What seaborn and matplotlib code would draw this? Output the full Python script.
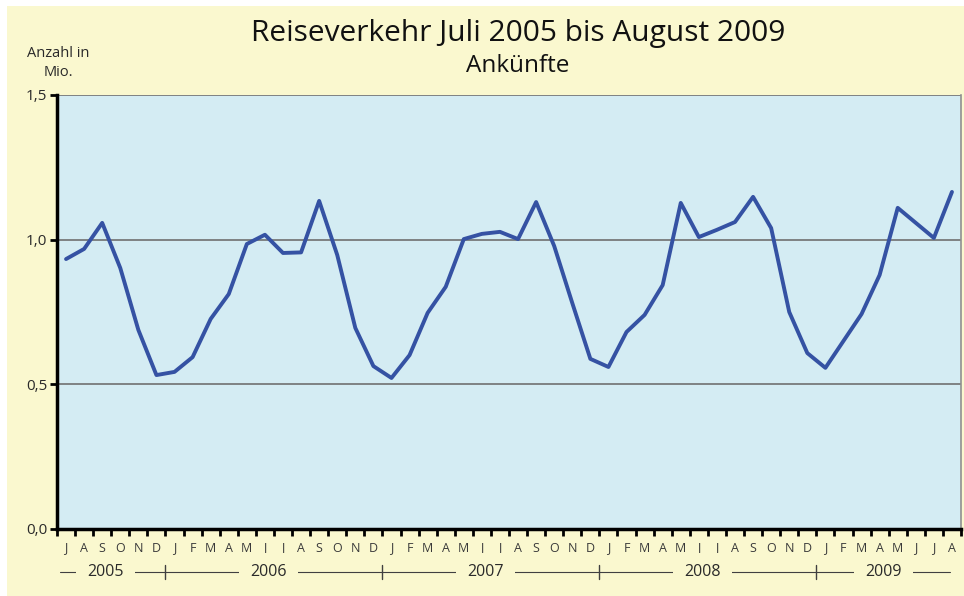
import matplotlib
matplotlib.use("Agg")
import matplotlib.pyplot as plt
import matplotlib.patches as mpatches
import seaborn as sns
import numpy as np
import pandas as pd

# Monthly arrivals (millions), July 2005 .. August 2009
months = list("JASOND") + list("JFMAMJJASOND") * 3 + list("JFMAMJJA")
years = ["2005", "2006", "2007", "2008", "2009"]
year_months = [6, 12, 12, 12, 8]
arrivals = [
    0.933, 0.968, 1.058, 0.902, 0.688, 0.532,
    0.543, 0.594, 0.726, 0.812, 0.985, 1.017, 0.954, 0.956, 1.134, 0.947, 0.695, 0.563,
    0.522, 0.601, 0.747, 0.837, 1.002, 1.020, 1.027, 1.002, 1.130, 0.978, 0.781, 0.588,
    0.560, 0.681, 0.740, 0.843, 1.127, 1.009, 1.034, 1.061, 1.148, 1.040, 0.750, 0.608,
    0.557, 0.650, 0.743, 0.878, 1.110, 1.058, 1.006, 1.165,
]

df = pd.DataFrame({"idx": np.arange(len(arrivals)) + 0.5, "value": arrivals})

sns.set_theme(style="white")
plt.rcParams["font.family"] = ["Open Sans", "DejaVu Sans"]

bg_yellow = "#FAF8CF"
bg_blue = "#D4ECF3"
line_col = "#3552A3"
txt = "#2a2a2a"

fig = plt.figure(figsize=(9.64, 5.96), dpi=100, facecolor="white")
fig.patches.append(mpatches.Rectangle((7 / 964, 0), 1, 1 - 6 / 596, transform=fig.transFigure,
                                      facecolor=bg_yellow, edgecolor="none", zorder=-10))
ax = fig.add_axes([57 / 964, 1 - 529 / 596, 904 / 964, 434 / 596])
ax.set_facecolor(bg_blue)

for yv in [0.5, 1.0, 1.5]:
    ax.axhline(yv, color="#707070", lw=1.2, zorder=1)

sns.lineplot(data=df, x="idx", y="value", ax=ax, color=line_col, lw=2.8, zorder=3)

n = len(arrivals)
ax.set_xlim(0, n)
ax.set_ylim(0, 1.5)
ax.set_xlabel("")
ax.set_ylabel("")

ax.set_yticks([0, 0.5, 1.0, 1.5])
ax.set_yticklabels(["0,0", "0,5", "1,0", "1,5"], fontsize=11, color=txt)
ax.set_xticks(np.arange(0, n + 1))
ax.set_xticklabels([])
ax.set_xticks(np.arange(n) + 0.5, minor=True)
ax.set_xticklabels(months, minor=True, fontsize=9, color="#3a3a3a")
ax.tick_params(axis="x", which="major", direction="out", length=5, width=2, color="black", bottom=True)
ax.tick_params(axis="x", which="minor", length=0, pad=9)
ax.tick_params(axis="y", direction="out", length=5, width=2, color="black", left=True, pad=2)

for s in ["left", "bottom"]:
    ax.spines[s].set_color("black")
    ax.spines[s].set_linewidth(2.5)
ax.spines["top"].set_visible(False)
ax.spines["right"].set_color("#909090")
ax.spines["right"].set_linewidth(1.2)

# Year row under month letters
trans = ax.get_xaxis_transform()
row_y = -0.099
ax.plot([0.17, n - 0.6], [row_y, row_y], transform=trans, color="#404040", lw=0.8, clip_on=False)
start = 0
for yr, cnt in zip(years, year_months):
    ax.text(start + cnt / 2 - 0.3, row_y, yr, transform=trans, ha="center", va="center", fontsize=11.5,
            color=txt, bbox=dict(facecolor=bg_yellow, edgecolor="none", pad=8), clip_on=False)
    start += cnt
    if start < n:
        ax.plot([start, start], [row_y - 0.017, row_y + 0.017], transform=trans, color="#404040",
                lw=1, clip_on=False)

fig.text(518 / 964, 1 - 33 / 596, "Reiseverkehr Juli 2005 bis August 2009", ha="center", va="center",
         fontsize=21.5, color="#111111")
fig.text(518 / 964, 1 - 66 / 596, "Ankünfte", ha="center", va="center", fontsize=17.5, color="#111111")
fig.text(58 / 964, 1 - 63 / 596, "Anzahl in\nMio.", ha="center", va="center", fontsize=10.5,
         color=txt, linespacing=1.3)

fig.savefig("out.png", dpi=100, facecolor=fig.get_facecolor())
